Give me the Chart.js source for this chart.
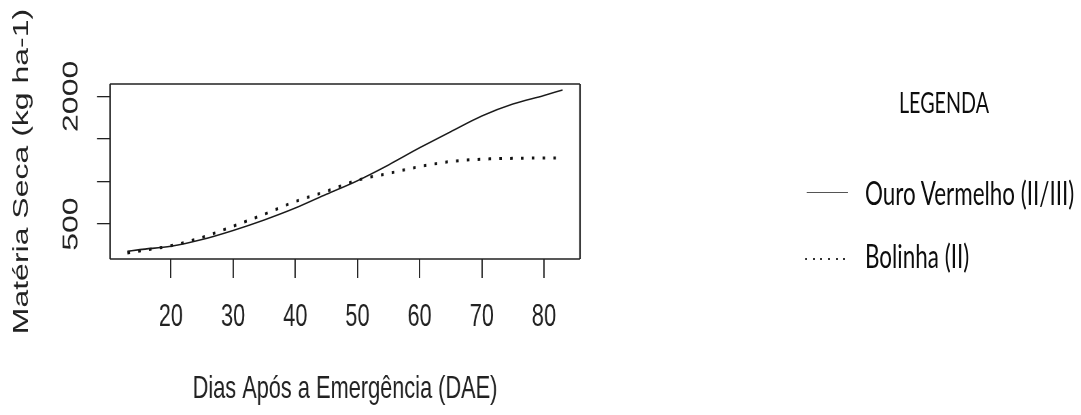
<!DOCTYPE html>
<html>
<head>
<meta charset="utf-8">
<script src="https://cdn.jsdelivr.net/npm/chart.js@4.4.0/dist/chart.umd.min.js"></script>
<style>
  html, body { margin: 0; padding: 0; background: #fff; overflow: hidden; }
  #wrap { position: absolute; left: 0; top: 0; width: 1081px; height: 415px; overflow: hidden; background: #fff; }
  #stage { position: absolute; left: 0; top: 0; height: 415px; transform-origin: 0 0; }
  #c { position: absolute; left: 0; top: 0; }
  .leg { position: absolute; font-family: Lato, "Liberation Sans", sans-serif; color: #0d0d0d; white-space: nowrap; line-height: 1.2; }
  .sample { position: absolute; }
</style>
</head>
<body>
<div id="wrap">
  <div id="stage">
    <canvas id="c"></canvas>
    <div class="leg" id="legTitle">LEGENDA</div>
    <div class="sample" id="sample1"></div>
    <div class="leg" id="leg1">Ouro Vermelho (II/III)</div>
    <div class="sample" id="sample2"></div>
    <div class="leg" id="leg2">Bolinha (II)</div>
  </div>
</div>
<script>
// ---- data ----
const days = [13, 15, 20, 25, 30, 35, 40, 45, 50, 55, 60, 65, 70, 75, 80, 83];
const ouroVermelho = [180, 200, 240, 318, 425, 548, 688, 850, 1010, 1195, 1395, 1585, 1770, 1910, 2010, 2075];
const bolinha = [160, 185, 246, 343, 475, 615, 765, 885, 1015, 1095, 1175, 1235, 1262, 1272, 1275, 1275];
const xTicks = [20, 30, 40, 50, 60, 70, 80];
const yTicks = [500, 1000, 1500, 2000];
const yLabelled = [500, 2000];
const seriesNames = ["Ouro Vermelho (II/III)", "Bolinha (II)"];
const xTitle = "Dias Após a Emergência (DAE)";
const yTitle = "Matéria Seca (kg ha-1)";

// ---- layout (real pixels) ----
const SX = 0.68;                  // horizontal squeeze of the reference image
const W = 1081, H = 415;
const LW = Math.round(W / SX);    // logical canvas width
const plotL = 110, plotR = 580, plotT = 84, plotB = 259;

const stage = document.getElementById('stage');
stage.style.width = LW + 'px';
stage.style.transform = 'scaleX(' + SX + ')';
const cv = document.getElementById('c');
cv.width = LW; cv.height = H;
cv.style.width = LW + 'px'; cv.style.height = H + 'px';

// legend placement (converted to logical coords)
function place(id, xReal, capCenter, size, center) {
  const el = document.getElementById(id);
  el.style.fontSize = size + 'px';
  el.style.top = (capCenter - 0.629 * size) + 'px';
  el.style.left = (xReal / SX) + 'px';
  if (center) el.style.transform = 'translateX(-50%)';
}
place('legTitle', 944, 103, 29, true);
place('leg1', 865, 194, 33, false);
place('leg2', 865, 256.5, 33, false);
const s1 = document.getElementById('sample1');
s1.style.left = (806.7 / SX) + 'px'; s1.style.top = '192px';
s1.style.width = ((848.3 - 806.7) / SX) + 'px'; s1.style.height = '1.4px'; s1.style.background = '#555';
const s2 = document.getElementById('sample2');
s2.style.left = (805 / SX) + 'px'; s2.style.top = '258px';
s2.style.width = ((847 - 805) / SX) + 'px'; s2.style.height = '2px';
s2.style.background = 'repeating-linear-gradient(to right, #333 0px, #333 ' + (2 / SX) + 'px, transparent ' + (2 / SX) + 'px, transparent ' + (7.6 / SX) + 'px)';

const FONT = '"Liberation Sans", Arial, sans-serif';
Chart.defaults.font.family = FONT;
Chart.defaults.color = '#222';

const framePlugin = {
  id: 'frame',
  afterDraw(chart) {
    const a = chart.chartArea, ctx = chart.ctx;
    ctx.save();
    ctx.strokeStyle = '#222';
    ctx.lineWidth = 1.5;
    ctx.beginPath();
    ctx.moveTo(a.left, a.top); ctx.lineTo(a.right, a.top);
    ctx.moveTo(a.left, a.bottom); ctx.lineTo(a.right, a.bottom);
    ctx.stroke();
    ctx.lineWidth = 1.5 / SX;
    ctx.beginPath();
    ctx.moveTo(a.left, a.top); ctx.lineTo(a.left, a.bottom);
    ctx.moveTo(a.right, a.top); ctx.lineTo(a.right, a.bottom);
    ctx.stroke();
    ctx.restore();
  }
};

new Chart(cv, {
  type: 'line',
  data: {
    datasets: [
      {
        label: seriesNames[0],
        data: days.map((d, i) => ({ x: d, y: ouroVermelho[i] })),
        borderColor: '#1a1a1a',
        borderWidth: 1.6,
        pointRadius: 0,
        cubicInterpolationMode: 'monotone',
        fill: false
      },
      {
        label: seriesNames[1],
        data: days.map((d, i) => ({ x: d, y: bolinha[i] })),
        borderColor: '#111',
        borderWidth: 3,
        borderDash: [3.8, 12.1],
        borderCapStyle: 'butt',
        pointRadius: 0,
        cubicInterpolationMode: 'monotone',
        fill: false
      }
    ]
  },
  options: {
    responsive: false,
    animation: false,
    devicePixelRatio: 1,
    layout: { padding: { left: 0, top: plotT, right: LW - plotR / SX, bottom: 0 } },
    plugins: { legend: { display: false }, tooltip: { enabled: false } },
    scales: {
      x: {
        type: 'linear',
        min: 10.2, max: 85.8,
        afterBuildTicks: s => { s.ticks = xTicks.map(v => ({ value: v })); },
        afterFit: s => { s.height = H - plotB; },
        grid: { drawOnChartArea: false, drawTicks: true, tickLength: 19, color: '#222', lineWidth: 1.9 },
        border: { display: false },
        ticks: { font: { size: 32 }, color: '#222', padding: 19.5, maxRotation: 0, autoSkip: false },
        title: { display: true, text: xTitle, font: { size: 32 }, color: '#222', padding: { top: 0, bottom: 6.8 } }
      },
      y: {
        type: 'linear',
        min: 90, max: 2145,
        afterBuildTicks: s => { s.ticks = yTicks.map(v => ({ value: v })); },
        afterFit: s => { s.width = plotL / SX; },
        grid: { drawOnChartArea: false, drawTicks: true, tickLength: 19, color: '#222', lineWidth: 1.3 },
        border: { display: false },
        ticks: {
          font: { size: 32 }, color: '#222', padding: 2, autoSkip: false,
          minRotation: 90, maxRotation: 90, crossAlign: 'center',
          callback: v => yLabelled.includes(v) ? String(v) : ''
        },
        title: { display: true, text: yTitle, font: { size: 32 }, color: '#222', padding: { top: 13.2, bottom: 0 } }
      }
    }
  },
  plugins: [framePlugin]
});
</script>
</body>
</html>
